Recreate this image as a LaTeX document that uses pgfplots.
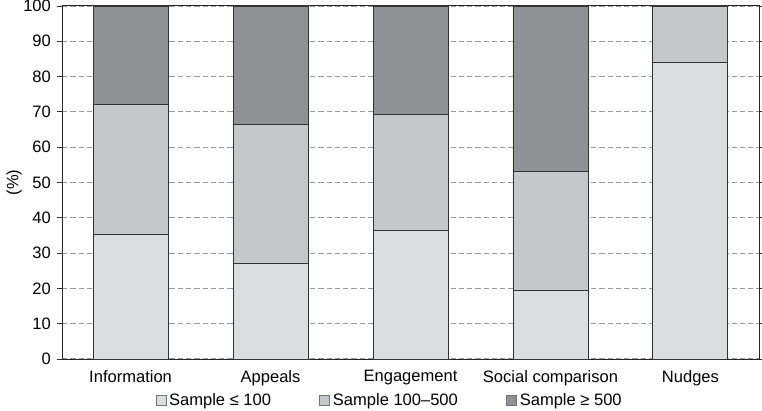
\documentclass[border=0pt]{standalone}
\usepackage{pgfplots}
\pgfplotsset{compat=1.18}
\usepackage{fontspec}
\setmainfont{Liberation Sans}
\definecolor{c1}{HTML}{DCDDDF}
\definecolor{c2}{HTML}{C6C7C9}
\definecolor{c3}{HTML}{909195}
\definecolor{gridc}{HTML}{9A9A9A}
\begin{document}
\fontsize{12.4}{15}\selectfont
\begin{tikzpicture}
\path[use as bounding box] (0,0) rectangle (571.5pt,307.5pt);
\begin{axis}[
  at={(46.5pt,38.25pt)}, anchor=south west,
  width=522.75pt, height=264.75pt, scale only axis,
  ybar stacked, bar width=56.25pt,
  xmin=-0.49, xmax=4.49, ymin=0, ymax=100,
  xtick={0,1,2,3,4},
  xticklabels={Information,Appeals,Engagement,Social comparison,Nudges},
  ytick={0,10,...,100},
  /pgf/number format/assume math mode=true,
  xtick style={draw=none},
  ytick style={black!80, line width=0.6pt},
  tick align=outside, major tick length=4pt,
  ymajorgrids, grid style={dash pattern=on 4pt off 2.2pt, gridc, line width=0.8pt},
  axis line style={black!85, line width=0.75pt},
  ticklabel style={font=\fontsize{12.4}{15}\selectfont},
  ylabel={(\%)},
  every axis y label/.style={at={(axis description cs:-0.0689,0.5)},rotate=90,anchor=center},
  legend columns=3,
  legend style={at={(axis description cs:0.4707,-0.118)}, anchor=center, draw=none,
    font=\fontsize{12.4}{15}\selectfont, /tikz/every even column/.append style={column sep=34pt},
    nodes={inner sep=2.2pt}},
  legend image code/.code={\draw[#1, draw=black!55, line width=0.5pt] (0pt,-3.7pt) rectangle (7.5pt,3.7pt);},
]
\addplot[fill=c1, draw=black!80, line width=0.7pt] coordinates {(0,35.4) (1,27.2) (2,36.5) (3,19.3) (4,84.0)};
\addplot[fill=c2, draw=black!80, line width=0.7pt] coordinates {(0,36.8) (1,39.1) (2,32.9) (3,33.7) (4,16.0)};
\addplot[fill=c3, draw=black!80, line width=0.7pt] coordinates {(0,27.8) (1,33.7) (2,30.6) (3,47.0) (4,0)};
\legend{Sample ≤ 100, Sample 100–500, Sample ≥ 500}
\end{axis}
\end{tikzpicture}
\end{document}
